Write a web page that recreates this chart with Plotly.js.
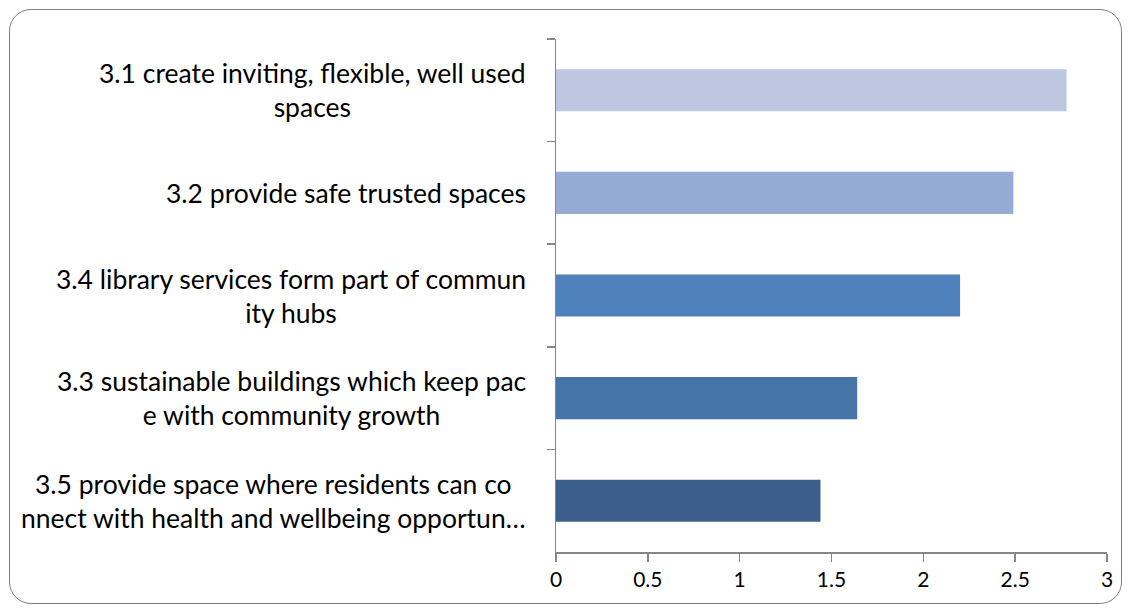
<!DOCTYPE html>
<html>
<head>
<meta charset="utf-8">
<script src="https://cdn.plot.ly/plotly-3.0.1.min.js"></script>
<style>
html,body{margin:0;padding:0;background:#fff;}
#wrap{position:relative;width:1131px;height:609px;}
#chart{width:1131px;height:609px;}
#frame{position:absolute;left:9px;top:9px;width:1113px;height:595px;border:1.5px solid #7f7f7f;border-radius:22px;pointer-events:none;box-sizing:border-box;}
</style>
</head>
<body>
<div id="wrap"><div id="chart"></div><div id="frame"></div></div>
<script>
// Data (top to bottom)
var categories = [
  "3.1 create inviting, flexible, well used<br>spaces",
  "3.2 provide safe trusted spaces",
  "3.4 library services form part of commun<br>ity hubs",
  "3.3 sustainable buildings which keep pac<br>e with community growth",
  "3.5 provide space where residents can co<br>nnect with health and wellbeing opportun…"
];
var values = [2.78, 2.49, 2.20, 1.64, 1.44];
var barColors = ["#BCC8E0", "#95ABD3", "#4F81BD", "#4673A8", "#3B5E8C"];
var xTicks = [0, 0.5, 1, 1.5, 2, 2.5, 3];
var xTickText = ["0", "0.5", "1", "1.5", "2", "2.5", "3"];

var trace = {
  type: "bar",
  orientation: "h",
  y: categories,
  x: values,
  width: 0.41,
  marker: {color: barColors, line: {width: 0}},
  hoverinfo: "x+y"
};

var annotations = categories.map(function(c){
  return {
    xref: "paper", yref: "y", x: 0, y: c, xshift: -28,
    xanchor: "right", yanchor: "middle", align: "center",
    text: c, showarrow: false,
    font: {family: "Lato, 'Open Sans', sans-serif", size: 26.5, color: "#000"}
  };
});

var layout = {
  width: 1131, height: 609,
  margin: {l: 556, r: 24, t: 39, b: 57, pad: 0},
  paper_bgcolor: "#fff", plot_bgcolor: "#fff",
  showlegend: false,
  xaxis: {
    range: [0, 3], tickvals: xTicks, ticktext: xTickText,
    showgrid: false, zeroline: false,
    showline: true, linecolor: "#868686", linewidth: 1.5,
    ticks: "outside", ticklen: 8, tickwidth: 1.5, tickcolor: "#868686",
    tickfont: {family: "Lato, 'Open Sans', sans-serif", size: 21, color: "#000"},
    fixedrange: true
  },
  yaxis: {
    type: "category", categoryorder: "array", categoryarray: categories,
    autorange: "reversed",
    showgrid: false, zeroline: false,
    showline: true, linecolor: "#868686", linewidth: 1.5,
    ticks: "outside", tickson: "boundaries", ticklen: 8, tickwidth: 1.5, tickcolor: "#868686",
    showticklabels: false, fixedrange: true
  },
  annotations: annotations
};

Plotly.newPlot("chart", [trace], layout, {displayModeBar: false, staticPlot: true});
</script>
</body>
</html>
